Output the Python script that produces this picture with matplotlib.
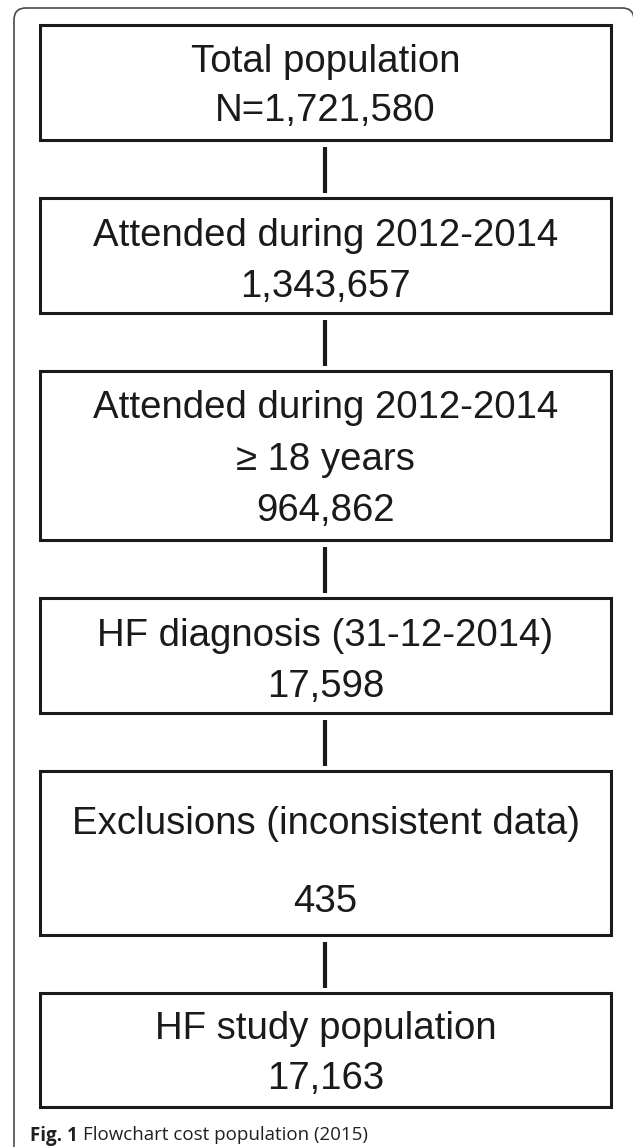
import matplotlib.pyplot as plt
from matplotlib.patches import Rectangle, PathPatch
from matplotlib.path import Path

# Flowchart content
steps = [
    ['Total population'],
    ['Attended during 2012-2014'],
    ['Attended during 2012-2014', '\u2265 18 years'],
    ['HF diagnosis (31-12-2014)'],
    ['Exclusions (inconsistent data)', ''],
    ['HF study population'],
]
counts = ['N=1,721,580', '1,343,657', '964,862', '17,598', '435', '17,163']
caption_bold = 'Fig. 1'
caption_text = 'Flowchart cost population (2015)'

# layout (pixel units, y grows downwards)
W, H = 633, 1147
box_left, box_right = 40, 611
box_heights = [115, 115, 169, 115, 164, 114]
first_top = 25
gap = 58
line_step = [50, 50, 52, 50, 39, 50]
text_shift = [0, 2, 0, 2, 6, 0]

fig = plt.figure(figsize=(W / 100, H / 100), dpi=100)
ax = fig.add_axes([0, 0, 1, 1])
ax.set_xlim(0, W)
ax.set_ylim(H, 0)
ax.axis('off')

ink = '#1a1a1a'
cx = (box_left + box_right) / 2

# outer frame with rounded top corners, open at the bottom
r = 12
fx0, fx1, fy0 = 14, 634, 8
verts = [(fx0, H + 5), (fx0, fy0 + r), (fx0, fy0), (fx0 + r, fy0),
         (fx1 - r, fy0), (fx1, fy0), (fx1, fy0 + r), (fx1, H + 5)]
codes = [Path.MOVETO, Path.LINETO, Path.CURVE3, Path.CURVE3,
         Path.LINETO, Path.CURVE3, Path.CURVE3, Path.LINETO]
ax.add_patch(PathPatch(Path(verts, codes), fill=False, ec='#4a4a4a', lw=1.2))

top = first_top
prev_bottom = None
for lines, count, h, step, dy in zip(steps, counts, box_heights, line_step, text_shift):
    if prev_bottom is not None:
        ax.plot([cx - 1, cx - 1], [prev_bottom + 7, top - 5], color=ink, lw=3.0,
                solid_capstyle='butt')
    ax.add_patch(Rectangle((box_left, top), box_right - box_left, h,
                           fill=False, ec=ink, lw=2.2))
    all_lines = lines + [count]
    n = len(all_lines)
    center = top + h / 2 + dy
    for i, txt in enumerate(all_lines):
        y = center + (i - (n - 1) / 2) * step
        ax.text(cx, y, txt, ha='center', va='center_baseline', fontsize=27.6,
                color=ink, family='Liberation Sans')
    prev_bottom = top + h
    top = top + h + gap

# caption: bold label followed by regular text
renderer = fig.canvas.get_renderer()
t1 = ax.text(30, 1133, caption_bold, ha='left', va='center_baseline',
             fontsize=13.5, weight='bold', color='#231f20', family='Open Sans')
bb = t1.get_window_extent(renderer=renderer)
x_end = ax.transData.inverted().transform((bb.x1, bb.y0))[0]
ax.text(x_end + 5, 1133, caption_text, ha='left', va='center_baseline',
        fontsize=13.5, color='#231f20', family='Open Sans')

fig.savefig('out.png', dpi=100)
